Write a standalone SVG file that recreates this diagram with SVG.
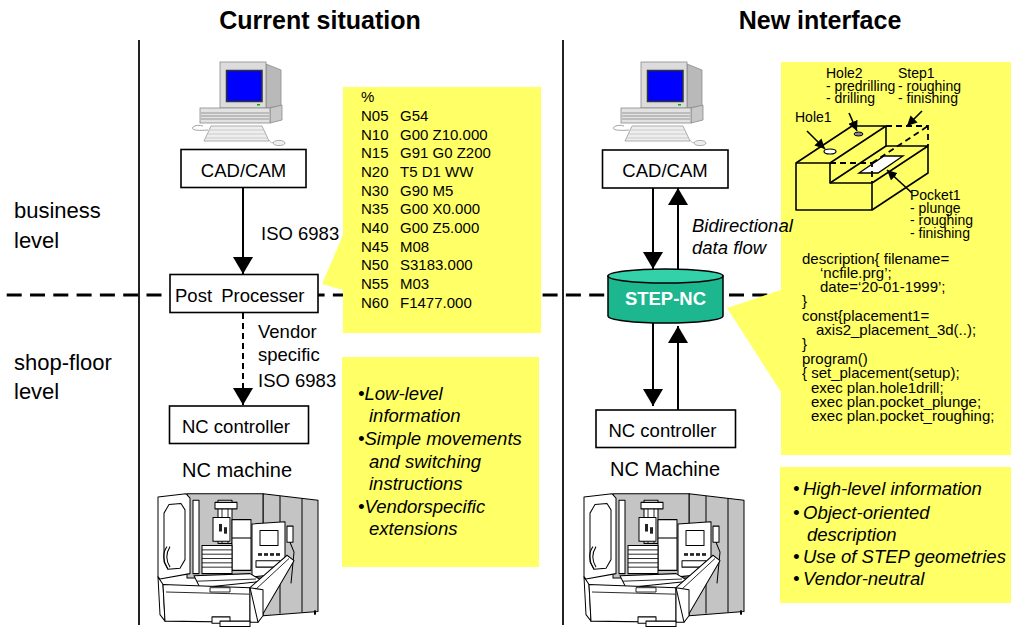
<svg xmlns="http://www.w3.org/2000/svg" width="1011" height="632" viewBox="0 0 1011 632">
<style>
.t{font-family:"Liberation Sans",Arial,sans-serif;fill:#000}
.box{fill:#fff;stroke:#000;stroke-width:1.6}
.yel{fill:#ffff66}
.ln{stroke:#000;stroke-width:2;fill:none}
.m{stroke:#000;stroke-width:1;fill:#fff;stroke-linejoin:round}
.mg{stroke:#000;stroke-width:1;fill:#c4c4c4;stroke-linejoin:round}
.sk{fill:none;stroke:#000;stroke-width:1.6;stroke-linejoin:round}
.skd{fill:none;stroke:#000;stroke-width:1.8;stroke-dasharray:6 4}
</style>
<defs>
<marker id="ah" markerUnits="userSpaceOnUse" markerWidth="18" markerHeight="20" refX="17" refY="10" orient="auto" viewBox="0 0 18 20">
<path d="M0,0 L17,10 L0,20 Z" fill="#000"/>
</marker>
<marker id="ahs" markerUnits="userSpaceOnUse" markerWidth="11" markerHeight="10" refX="10" refY="5" orient="auto" viewBox="0 0 11 10">
<path d="M0,0 L10,5 L0,10 Z" fill="#000"/>
</marker>
<g id="computer-art">
<polygon points="266,64 281,70 281,106 266,108" fill="#b9b9b9" stroke="#8a8a8a" stroke-width="0.8"/>
<rect x="220" y="62" width="46" height="46" fill="#dcdcdc" stroke="#8a8a8a" stroke-width="0.8"/>
<rect x="226.5" y="70.5" width="35.5" height="31" fill="#0000ff" stroke="#333" stroke-width="1.5"/>
<rect x="257" y="104" width="3" height="1.5" fill="#0a0"/>
<polygon points="270,108 282,105 282,120 270,123" fill="#c8c8c8" stroke="#8a8a8a" stroke-width="0.8"/>
<rect x="200" y="108" width="70" height="15" fill="#e2e2e2" stroke="#8a8a8a" stroke-width="0.8"/>
<path d="M201,113 H269 M201,116 H269 M201,119 H269" stroke="#777" stroke-width="0.7"/>
<polygon points="211,126 262,126 269,141 204,141" fill="#eeeeee" stroke="#999" stroke-width="0.8"/>
<path d="M209,130 H264 M207,134 H266 M206,138 H267" stroke="#bbb" stroke-width="0.7"/>
<path d="M208,130 C198,131 190,130 193,127 C195,125 200,125 203,126" fill="none" stroke="#999" stroke-width="0.9"/>
<ellipse cx="279" cy="143" rx="6" ry="2.6" fill="#eee" stroke="#999" stroke-width="0.8"/>
<path d="M269,140 C271,143 272,143 273,142" fill="none" stroke="#999" stroke-width="0.7"/>
</g>
<g id="nc-machine-art">
<polygon class="mg" points="113,9 168,15 168,118 113,122"/>
<path d="M130,11 V120 M152,13 V119" stroke="#000" stroke-width="1"/>
<rect x="164" y="117" width="2" height="4" fill="#000"/>
<rect class="mg" x="37" y="9" width="76" height="78" fill="#d0d0d0"/>
<rect class="m" x="43" y="15" width="6" height="68"/>
<rect class="m" x="68" y="15" width="14" height="40"/>
<rect class="m" x="65" y="17" width="22" height="6"/>
<path d="M72,23 V55 M78,23 V55" stroke="#000" stroke-width="0.8"/>
<rect class="m" x="63" y="31" width="17" height="22" fill="#ddd"/>
<rect x="69" y="37" width="3" height="7" fill="#222"/>
<rect x="74" y="40" width="3" height="6" fill="#222"/>
<rect class="m" x="82" y="33" width="19" height="47"/>
<path d="M82,50 H101" stroke="#000" stroke-width="1"/>
<rect class="m" x="52" y="57" width="30" height="26"/>
<path d="M52,61 H82 M52,65 H82 M52,69 H82 M52,73 H82 M52,77 H82" stroke="#000" stroke-width="0.8"/>
<polygon class="m" points="8,12 36,9 40,13 40,83 10,88 8,86"/>
<polygon class="m" points="14,27 19,19 31,18 35,24 35,70 30,78 18,79 14,72"/>
<path d="M17,58 C12,64 13,72 18,79 M20,58 C16,64 16,71 20,77" fill="none" stroke="#000" stroke-width="1"/>
<polygon class="m" points="102,37 135,35 135,83 102,86" fill="#e2e2e2"/>
<rect class="m" x="110" y="43" width="18" height="14" fill="#b8b8b8"/>
<rect x="108" y="64" width="4" height="2.5" fill="#222"/>
<rect x="114" y="64" width="4" height="2.5" fill="#222"/>
<rect x="120" y="64" width="4" height="2.5" fill="#222"/>
<rect x="126" y="64" width="4" height="2.5" fill="#222"/>
<rect class="m" x="106" y="71" width="24" height="6"/>
<rect class="m" x="137" y="39" width="6" height="15"/>
<path d="M140,54 L144,63 L141,92" fill="none" stroke="#000" stroke-width="1"/>
<polygon class="m" points="44,85 100,83 113,90 50,96"/>
<path d="M47,90 L106,88" stroke="#000" stroke-width="0.8"/>
<polygon class="m" points="8,86 13,93 15,127 10,121"/>
<polygon class="m" points="13,93 100,96 100,128 15,127"/>
<path d="M16,100 L99,102" stroke="#000" stroke-width="0.8"/>
<polygon class="m" points="100,96 137,66 144,71 108,128 100,128"/>
<path d="M104,99 L139,69" stroke="#000" stroke-width="0.8"/>
<polygon class="m" points="100,96 113,98 113,122 108,128"/>
<rect class="m" x="62" y="123" width="18" height="6"/>
<rect class="m" x="70" y="127" width="30" height="5"/>
<path d="M60,96 H80 V100 H60 Z" fill="#fff" stroke="#000" stroke-width="0.8"/>
</g>
</defs>

<rect width="1011" height="632" fill="#fff"/>

<g id="frame">
<line x1="139" y1="40" x2="139" y2="625" stroke="#222" stroke-width="2"/>
<line x1="563" y1="40" x2="563" y2="625" stroke="#222" stroke-width="2"/>
<line x1="6.7" y1="295" x2="1011" y2="295" stroke="#000" stroke-width="3" stroke-dasharray="15 8.3"/>
</g>

<g id="titles">
<text class="t" x="320" y="29" text-anchor="middle" font-size="25" font-weight="bold">Current situation</text>
<text class="t" x="820" y="29" text-anchor="middle" font-size="25" font-weight="bold">New interface</text>
<text class="t" x="14" y="218" font-size="22">business</text>
<text class="t" x="14" y="248" font-size="22">level</text>
<text class="t" x="14" y="370" font-size="22">shop-floor</text>
<text class="t" x="14" y="399" font-size="22">level</text>
</g>

<g id="gcode-callout">
<path class="yel" d="M343,87 H541 V333 H343 V290 L322,284 L343,235 Z"/>
<g class="t" font-size="15">
<text x="361" y="102">%</text>
<text x="361" y="121">N05</text><text x="400" y="121">G54</text>
<text x="361" y="139.5">N10</text><text x="400" y="139.5">G00 Z10.000</text>
<text x="361" y="158">N15</text><text x="400" y="158">G91 G0 Z200</text>
<text x="361" y="177">N20</text><text x="400" y="177">T5 D1 WW</text>
<text x="361" y="195.5">N30</text><text x="400" y="195.5">G90 M5</text>
<text x="361" y="214">N35</text><text x="400" y="214">G00 X0.000</text>
<text x="361" y="233">N40</text><text x="400" y="233">G00 Z5.000</text>
<text x="361" y="251.5">N45</text><text x="400" y="251.5">M08</text>
<text x="361" y="270">N50</text><text x="400" y="270">S3183.000</text>
<text x="361" y="289">N55</text><text x="400" y="289">M03</text>
<text x="361" y="307.5">N60</text><text x="400" y="307.5">F1477.000</text>
</g>
</g>

<g id="lowlevel-notes">
<rect class="yel" x="342" y="357" width="197" height="210"/>
<g class="t" font-size="18.5" font-style="italic">
<text x="358" y="400">•Low-level</text>
<text x="369" y="422">information</text>
<text x="358" y="445">•Simple movements</text>
<text x="369" y="468">and switching</text>
<text x="369" y="490">instructions</text>
<text x="358" y="513">•Vendorspecific</text>
<text x="369" y="535">extensions</text>
</g>
</g>

<g id="stepnc-callout">
<path class="yel" d="M781,62 H1011 V455 H781 V392 L727,308 L781,290 Z"/>
<g class="t" font-size="15">
<text x="802" y="263.5">description{ filename=</text>
<text x="820" y="278">‘ncfile.prg’;</text>
<text x="820" y="292">date=‘20-01-1999’;</text>
<text x="802" y="306">}</text>
<text x="802" y="320.5">const{placement1=</text>
<text x="816" y="335">axis2_placement_3d(..);</text>
<text x="802" y="349">}</text>
<text x="802" y="363.5">program()</text>
<text x="802" y="378">{ set_placement(setup);</text>
<text x="811" y="392.5">exec plan.hole1drill;</text>
<text x="811" y="406.5">exec plan.pocket_plunge;</text>
<text x="811" y="421">exec plan.pocket_roughing;</text>
</g>
</g>

<g id="part-sketch">
<path class="sk" d="M796,163 H830 V183 H872 V210 H796 Z"/>
<path class="sk" d="M796,163 L852,126 H886 L830,163"/>
<path class="sk" d="M886,126 V146 L830,183"/>
<path class="sk" d="M886,146 H928 V173 L872,210 M872,183 L928,146"/>
<polygon points="859,173 878,173 903,156 884,156" fill="#fff" stroke="#000" stroke-width="1.3"/>
<path class="skd" d="M830,163 H872 V183 M872,163 L928,126 M886,126 H928 V146"/>
<ellipse cx="830" cy="151.5" rx="6" ry="2.5" fill="#fff" stroke="#000" stroke-width="1.2"/>
<ellipse cx="858.5" cy="134" rx="4.5" ry="2" fill="#888" stroke="#000" stroke-width="1"/>
<g stroke="#000" stroke-width="1.6" marker-end="url(#ahs)">
<line x1="807" y1="131" x2="825" y2="149"/>
<line x1="849" y1="113" x2="857" y2="131"/>
<line x1="922" y1="111" x2="907" y2="126"/>
<line x1="912" y1="193" x2="887" y2="170"/>
</g>
<g class="t" font-size="14">
<text x="826" y="78">Hole2</text>
<text x="826" y="90.5">- predrilling</text>
<text x="826" y="103">- drilling</text>
<text x="898" y="78">Step1</text>
<text x="898" y="90.5">- roughing</text>
<text x="898" y="103">- finishing</text>
<text x="795" y="122">Hole1</text>
<text x="910" y="200">Pocket1</text>
<text x="910" y="212.5">- plunge</text>
<text x="910" y="225">- roughing</text>
<text x="910" y="237.5">- finishing</text>
</g>
</g>

<g id="highlevel-notes">
<rect class="yel" x="780" y="467" width="231" height="136"/>
<g class="t" font-size="18.5" font-style="italic">
<text x="793" y="495">•</text><text x="803" y="495">High-level information</text>
<text x="793" y="519">•</text><text x="803" y="519">Object-oriented</text>
<text x="807" y="541">description</text>
<text x="793" y="563">•</text><text x="803" y="563">Use of STEP geometries</text>
<text x="793" y="585">•</text><text x="803" y="585">Vendor-neutral</text>
</g>
</g>

<g id="connectors">
<line class="ln" x1="243" y1="188" x2="243" y2="274" marker-end="url(#ah)"/>
<line class="ln" x1="243" y1="313" x2="243" y2="405" stroke-dasharray="6 4" marker-end="url(#ah)"/>
<line class="ln" x1="653" y1="188" x2="653" y2="269" marker-end="url(#ah)"/>
<line class="ln" x1="678" y1="270" x2="678" y2="188" marker-end="url(#ah)"/>
<line class="ln" x1="653" y1="323" x2="653" y2="406" marker-end="url(#ah)"/>
<line class="ln" x1="678" y1="410" x2="678" y2="326" marker-end="url(#ah)"/>
<text class="t" x="261" y="240" font-size="18.5">ISO 6983</text>
<text class="t" x="258" y="338" font-size="18.5">Vendor</text>
<text class="t" x="258" y="361" font-size="18.5">specific</text>
<text class="t" x="258" y="387" font-size="18.5">ISO 6983</text>
<text class="t" x="692" y="232" font-size="18.5" font-style="italic">Bidirectional</text>
<text class="t" x="692" y="254" font-size="18.5" font-style="italic">data flow</text>
</g>

<g id="computer-left"><use href="#computer-art"/></g>
<g id="computer-right"><use href="#computer-art" transform="translate(421,0)"/></g>

<g id="cadcam-left">
<rect class="box" x="181" y="149.5" width="125" height="38"/>
<text class="t" x="243.5" y="177" font-size="18.5" text-anchor="middle">CAD/CAM</text>
</g>
<g id="post-processer">
<rect class="box" x="170" y="274.5" width="148" height="38"/>
<text class="t" x="175" y="302" font-size="18.5" word-spacing="4">Post Processer</text>
</g>
<g id="nc-controller-left">
<rect class="box" x="169.5" y="406" width="139" height="37.5"/>
<text class="t" x="182" y="433" font-size="18.5">NC controller</text>
</g>
<g id="nc-machine-left">
<text class="t" x="237" y="477" font-size="20" text-anchor="middle">NC machine</text>
<use href="#nc-machine-art" transform="translate(150,484) scale(1,1.08)"/>
</g>

<g id="cadcam-right">
<rect class="box" x="602.5" y="150" width="125.5" height="38"/>
<text class="t" x="665" y="177" font-size="18.5" text-anchor="middle">CAD/CAM</text>
</g>
<g id="step-nc">
<path d="M608,276 V316 A57.5,7 0 0 0 723,316 V276 Z" fill="#1cb68f" stroke="#000" stroke-width="1.5"/>
<ellipse cx="665.5" cy="276" rx="57.5" ry="7" fill="#33d1a9" stroke="#000" stroke-width="1.5"/>
<text class="t" x="665.5" y="305" font-size="18.5" font-weight="bold" text-anchor="middle" style="fill:#fff">STEP-NC</text>
</g>
<g id="nc-controller-right">
<rect class="box" x="596" y="410" width="139.5" height="37.5"/>
<text class="t" x="608.5" y="437" font-size="18.5">NC controller</text>
</g>
<g id="nc-machine-right">
<text class="t" x="665" y="476" font-size="20" text-anchor="middle">NC Machine</text>
<use href="#nc-machine-art" transform="translate(576,484) scale(1,1.08)"/>
</g>
</svg>
